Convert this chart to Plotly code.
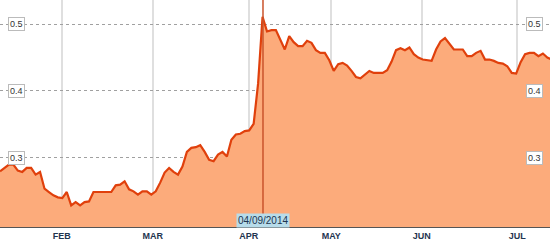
import plotly.graph_objects as go

# sample index (one per trading session shown) and values
values = [
    0.280, 0.285, 0.290, 0.290, 0.281, 0.279, 0.285, 0.285, 0.275, 0.279,
    0.254, 0.249, 0.244, 0.241, 0.240, 0.249, 0.229, 0.234, 0.229, 0.234,
    0.235, 0.249, 0.249, 0.249, 0.249, 0.249, 0.259, 0.260, 0.265, 0.253,
    0.250, 0.245, 0.250, 0.250, 0.245, 0.250, 0.263, 0.278, 0.285, 0.279,
    0.275, 0.287, 0.309, 0.315, 0.316, 0.319, 0.309, 0.297, 0.295, 0.305,
    0.309, 0.302, 0.327, 0.335, 0.336, 0.340, 0.341, 0.351, 0.411, 0.511,
    0.489, 0.491, 0.491, 0.477, 0.462, 0.482, 0.473, 0.467, 0.467, 0.475,
    0.472, 0.461, 0.457, 0.457, 0.446, 0.430, 0.440, 0.442, 0.438, 0.430,
    0.421, 0.419, 0.425, 0.430, 0.427, 0.427, 0.427, 0.431, 0.444, 0.461,
    0.464, 0.461, 0.465, 0.455, 0.450, 0.447, 0.446, 0.445, 0.462, 0.474,
    0.479, 0.470, 0.462, 0.462, 0.462, 0.452, 0.452, 0.457, 0.460, 0.447,
    0.447, 0.445, 0.442, 0.441, 0.437, 0.427, 0.426, 0.443, 0.455, 0.457,
    0.457, 0.452, 0.456, 0.450, 0.447,
]
day_index = list(range(len(values)))

month_labels = ["FEB", "MAR", "APR", "MAY", "JUN", "JUL"]
month_index = [13.87, 34.31, 55.89, 74.45, 94.76, 116.25]

y_ticks = [0.3, 0.4, 0.5]
y_tick_labels = ["0.3", "0.4", "0.5"]

marker_index = 59.1
marker_label = "04/09/2014"

x_range = [0, 123.6]
y_range = [0.1967, 0.536]

fig = go.Figure()
fig.add_trace(go.Scatter(
    x=day_index, y=values, mode="lines",
    fill="tozeroy", fillcolor="#fcab7b",
    line=dict(color="#e0400c", width=2.2),
    hoverinfo="skip",
))

# y tick labels drawn as boxed annotations at both sides
for v, t in zip(y_ticks, y_tick_labels):
    for xp in (0.0145, 0.9565):
        fig.add_annotation(
            x=xp, xref="paper", y=v, yref="y", text=t, showarrow=False,
            xanchor="left", yanchor="middle",
            font=dict(family="Arial, Liberation Sans", size=9, color="#333333"),
            bgcolor="white", bordercolor="#bbbbbb", borderwidth=1, borderpad=1,
        )

# date marker
fig.add_shape(type="line", x0=marker_index, x1=marker_index, xref="x",
              y0=0, y1=1, yref="paper",
              line=dict(color="#c9532c", width=1.5))
fig.add_annotation(
    x=marker_index, xref="x", y=0.0, yref="paper", text=marker_label,
    showarrow=False, xanchor="center", yanchor="bottom", yshift=-1,
    font=dict(family="Arial, Liberation Sans", size=10, color="#1d3450"),
    bgcolor="#b7dcea", borderpad=1,
)

fig.update_layout(
    width=550, height=241,
    margin=dict(l=0, r=0, t=0, b=12),
    paper_bgcolor="white", plot_bgcolor="white",
    showlegend=False,
    xaxis=dict(
        range=x_range, tickmode="array", tickvals=month_index,
        ticktext=month_labels, showgrid=True,
        gridcolor="rgba(150,150,150,0.3)", gridwidth=2,
        zeroline=False, showline=True, linecolor="#555555", linewidth=1,
        ticks="", ticklen=0,
        tickfont=dict(family="Arial, Liberation Sans", size=9, color="#1f3550",
                      weight="bold"),
        layer="above traces",
    ),
    yaxis=dict(
        range=y_range, tickmode="array", tickvals=y_ticks, showticklabels=False,
        showgrid=True, gridcolor="#a0a0a0", gridwidth=1,
        griddash="dot", zeroline=False, layer="above traces",
    ),
)

fig.write_html("out.html")
